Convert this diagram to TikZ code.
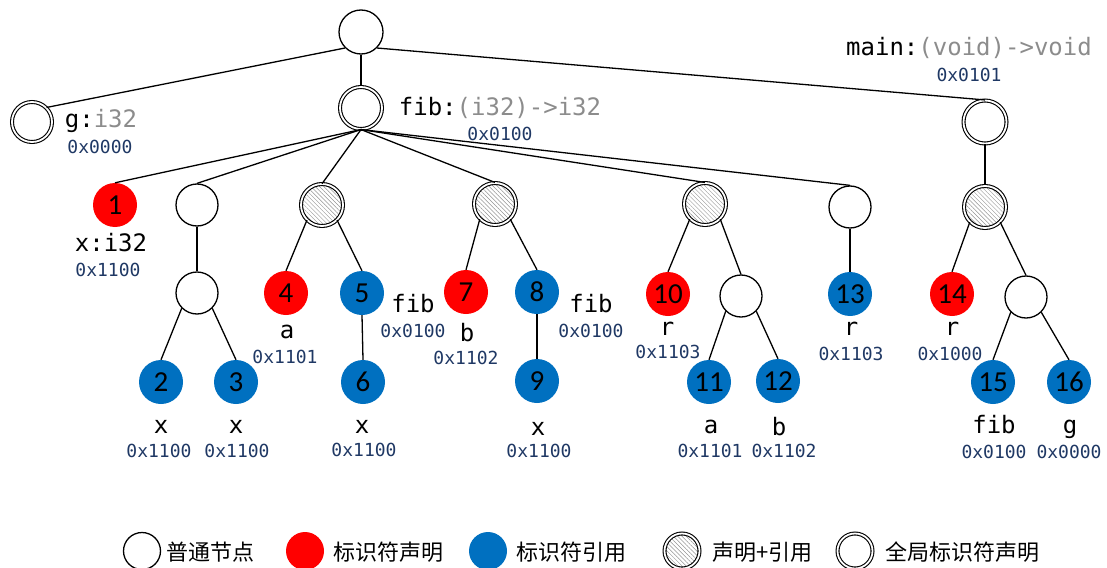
\documentclass[tikz,border=0pt]{standalone}
\usepackage{fontspec}
\usetikzlibrary{patterns.meta}
\newfontfamily\monof{DejaVu Sans Mono}
\newfontfamily\numf{Carlito}
\newfontfamily\cjkf{Noto Sans CJK SC}
\definecolor{declred}{HTML}{FF0000}
\definecolor{refblue}{HTML}{0070C0}
\definecolor{addrblue}{HTML}{1F3864}
\definecolor{typegray}{HTML}{8C8C8C}
\tikzset{
 circbase/.style={circle, inner sep=0pt, font=\numf\fontsize{29}{29}\selectfont},
 nplain/.style={circbase, draw, line width=1.3pt, minimum size=42pt},
 ndecl/.style={circbase, fill=declred, minimum size=44pt},
 nref/.style={circbase, fill=refblue, minimum size=44pt},
 nglob/.style={circbase, draw, double, line width=1.1pt, double distance=1.8pt, minimum size=40pt},
 nboth/.style={nglob, minimum size=42pt, pattern={Lines[angle=-45,distance=3pt,line width=0.45pt]}, pattern color=gray!85},
 conn/.style={line width=1.3pt},
 lbl/.style={anchor=base, inner sep=0pt, font=\monof\fontsize{24}{24}\selectfont},
 addr/.style={anchor=base, inner sep=0pt, text=addrblue, font=\monof\fontsize{18}{18}\selectfont},
 leg/.style={anchor=west, inner sep=0pt, font=\cjkf\fontsize{22}{22}\selectfont},
}
\begin{document}
\begin{tikzpicture}[x=1pt, y=-1pt]
\useasboundingbox (0,0) rectangle (1107,567);
% top levels
\node[nplain, minimum size=44pt] (root) at (361,32) {};
\node[nglob] (g) at (32,122) {};
\node[nglob, minimum size=42pt] (fib) at (361,108) {};
\node[nglob, minimum size=43pt] (main) at (985,122) {};
% level 2
\node[ndecl] (n1) at (115,205) {1};
\node[nplain] (e1) at (197,205) {};
\node[nboth] (h1) at (322,205) {};
\node[nboth] (h2) at (495,204) {};
\node[nboth] (h3) at (705,204) {};
\node[nplain] (e2) at (850,207) {};
\node[nboth] (hm) at (985,207) {};
% level 3
\node[nplain] (e3) at (197,293) {};
\node[ndecl] (n4) at (286,293) {4};
\node[nref] (n5) at (362,293) {5};
\node[ndecl] (n7) at (466,292) {7};
\node[nref] (n8) at (537,292) {8};
\node[ndecl] (n10) at (668,294) {10};
\node[nplain] (e4) at (741,296) {};
\node[nref] (n13) at (850,294) {13};
\node[ndecl] (n14) at (952,294) {14};
\node[nplain] (e5) at (1026,297) {};
% level 4
\node[nref] (n2) at (161,382) {2};
\node[nref] (n3) at (236,382) {3};
\node[nref] (n6) at (363,382) {6};
\node[nref] (n9) at (537,381) {9};
\node[nref] (n11) at (709,382) {11};
\node[nref] (n12) at (778,381) {12};
\node[nref] (n15) at (993,382) {15};
\node[nref] (n16) at (1069,382) {16};
% connectors
\draw[conn] (root.south west) -- (g.north east);
\draw[conn] (root.south) -- (fib.north);
\draw[conn] (root.south east) -- (main.north);
\foreach \c in {n1,e1,h1,h2,h3,e2} \draw[conn] (fib.south) -- (\c.north);
\draw[conn] (main.south) -- (hm.north);
\draw[conn] (e1.south) -- (e3.north);
\draw[conn] (e3.south west) -- (n2.north);
\draw[conn] (e3.south east) -- (n3.north);
\draw[conn] (h1.south west) -- (n4.north);
\draw[conn] (h1.south east) -- (n5.north);
\draw[conn] (n5.south) -- (n6.north);
\draw[conn] (h2.south west) -- (n7.north);
\draw[conn] (h2.south east) -- (n8.north);
\draw[conn] (n8.south) -- (n9.north);
\draw[conn] (h3.south west) -- (n10.north);
\draw[conn] (h3.south east) -- (e4.north);
\draw[conn] (e4.south west) -- (n11.north);
\draw[conn] (e4.south east) -- (n12.north);
\draw[conn] (e2.south) -- (n13.north);
\draw[conn] (hm.south west) -- (n14.north);
\draw[conn] (hm.south east) -- (e5.north);
\draw[conn] (e5.south west) -- (n15.north);
\draw[conn] (e5.south east) -- (n16.north);
% labels
\node[lbl] (tg) at (101,128) {g:\textcolor{typegray}{i32}};
\node[addr] (ag) at (100,153) {0x0000};
\node[lbl] (tfib) at (500,115) {fib:\textcolor{typegray}{(i32)->i32}};
\node[addr] (afib) at (500,140) {0x0100};
\node[lbl] (tmain) at (969,56) {main:\textcolor{typegray}{(void)->void}};
\node[addr] (amain) at (969,82) {0x0101};
\node[lbl] (t1) at (111,251) {x:i32};
\node[addr] (a1) at (108,276) {0x1100};
\node[lbl] (t4) at (287,338) {a};
\node[addr] (a4) at (285,363) {0x1101};
\node[lbl] (t5) at (413,312) {fib};
\node[addr] (a5) at (413,337) {0x0100};
\node[lbl] (t7) at (467,341) {b};
\node[addr] (a7) at (466,364) {0x1102};
\node[lbl] (t8) at (591,312) {fib};
\node[addr] (a8) at (591,337) {0x0100};
\node[lbl] (t10) at (667,335) {r};
\node[addr] (a10) at (668,358) {0x1103};
\node[lbl] (t13) at (851,335) {r};
\node[addr] (a13) at (851,360) {0x1103};
\node[lbl] (t14) at (952,335) {r};
\node[addr] (a14) at (950,360) {0x1000};
\node[lbl] (t2) at (161,433) {x};
\node[addr] (a2) at (159,457) {0x1100};
\node[lbl] (t3) at (236,433) {x};
\node[addr] (a3) at (237,457) {0x1100};
\node[lbl] (t6) at (362,433) {x};
\node[addr] (a6) at (364,456) {0x1100};
\node[lbl] (t9) at (538,435) {x};
\node[addr] (a9) at (539,457) {0x1100};
\node[lbl] (t11) at (711,433) {a};
\node[addr] (a11) at (710,457) {0x1101};
\node[lbl] (t12) at (779,435) {b};
\node[addr] (a12) at (784,457) {0x1102};
\node[lbl] (t15) at (994,433) {fib};
\node[addr] (a15) at (994,458) {0x0100};
\node[lbl] (t16) at (1070,433) {g};
\node[addr] (a16) at (1069,458) {0x0000};
% legend
\node[nplain, minimum size=37pt] (lg1) at (142,551) {};
\node[leg] (lt1) at (166,552) {普通节点};
\node[ndecl, minimum size=38pt] (lg2) at (305,551) {};
\node[leg] (lt2) at (333,552) {标识符声明};
\node[nref, minimum size=38pt] (lg3) at (488,551) {};
\node[leg] (lt3) at (516,552) {标识符引用};
\node[nboth, minimum size=35pt] (lg4) at (682,551) {};
\node[leg] (lt4) at (712,552) {声明+引用};
\node[nglob, minimum size=35pt] (lg5) at (855,551) {};
\node[leg] (lt5) at (885,552) {全局标识符声明};
\end{tikzpicture}
\end{document}
